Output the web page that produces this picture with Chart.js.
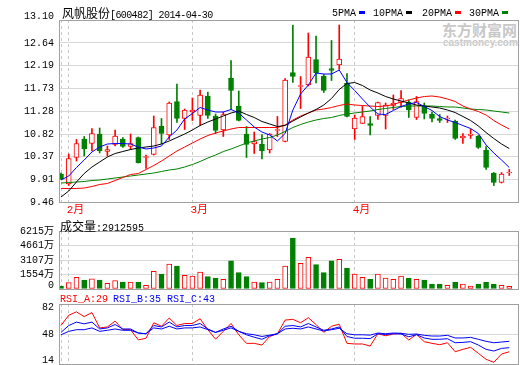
<!DOCTYPE html>
<html>
<head>
<meta charset="utf-8">
<title>风帆股份 600482</title>
<script src="https://cdn.jsdelivr.net/npm/chart.js@4"></script>
<style>
body { margin: 0; background: #fff; }
#box { position: relative; width: 520px; height: 365px; overflow: hidden; }
canvas { position: absolute; left: 0; z-index: 1; }
.t { position: absolute; z-index: 2; white-space: nowrap; font-family: "Liberation Mono", monospace; font-size: 10px; line-height: 14px; color: #000; }
.c { font-family: "Noto Sans CJK SC"; font-size: 12px; }
.sw { display: inline-block; width: 6px; height: 3px; margin-left: 3px; vertical-align: 2px; }
.wm { position: absolute; z-index: 0; white-space: nowrap; color: #c8c8c8; font-weight: bold; }
</style>
</head>
<body>
<div id="box">
  <div class="wm" style="left:442px;top:21px;font-size:15px;line-height:18px;font-family:'Noto Sans CJK SC'">东方财富网</div>
  <div class="wm" style="left:443px;top:37px;font-size:10px;line-height:12px;font-family:'Liberation Sans'">eastmoney.com</div>

  <canvas id="price" width="520" height="215" style="top:0"></canvas>
  <canvas id="vol" width="520" height="75" style="top:220px"></canvas>
  <canvas id="rsi" width="520" height="70" style="top:295px"></canvas>

  <div class="t" style="left:62px;top:6px"><span class="c">风帆股份</span><span style="letter-spacing:-0.6px">[600482] 2014-04-30</span></div>
  <div class="t" style="left:332px;top:7px">5PMA<span class="sw" style="background:#0000ff"></span></div>
  <div class="t" style="left:373px;top:7px">10PMA<span class="sw" style="background:#000000"></span></div>
  <div class="t" style="left:422px;top:7px">20PMA<span class="sw" style="background:#ff0000"></span></div>
  <div class="t" style="left:469px;top:7px">30PMA<span class="sw" style="background:#008000"></span></div>

  <div class="t" style="left:60px;top:219px"><span class="c">成交量</span>:2912595</div>

  <div class="t" style="left:60px;top:293px;color:#ff0000">RSI_A:29</div>
  <div class="t" style="left:113px;top:293px;color:#0000ff">RSI_B:35</div>
  <div class="t" style="left:167px;top:293px;color:#0000ff">RSI_C:43</div>
</div>

<script>
// trading days on the chart (2014, MM-DD)
var dates = [
  '01-30',
  '02-07', '02-10', '02-11', '02-12', '02-13', '02-14', '02-17', '02-18', '02-19', '02-20',
  '02-21', '02-24', '02-25', '02-26', '02-27', '02-28',
  '03-03', '03-04', '03-05', '03-06', '03-07', '03-10', '03-11', '03-12', '03-13', '03-14',
  '03-17', '03-18', '03-19', '03-20', '03-21', '03-24', '03-25', '03-26', '03-27', '03-28', '03-31',
  '04-01', '04-02', '04-03', '04-04', '04-08', '04-09', '04-10', '04-11', '04-14', '04-15',
  '04-16', '04-17', '04-18', '04-21', '04-22', '04-23', '04-24', '04-25', '04-28', '04-29', '04-30'
];

// daily prices
var open = [10.02, 9.82, 10.35, 10.72, 10.63, 10.82, 10.47, 10.61, 10.72, 10.57,
  10.75, 10.35, 10.41, 10.98, 10.80, 11.47, 11.13, 11.26, 11.19, 11.58,
  11.18, 10.90, 11.94, 11.38, 10.82, 10.62, 10.62, 10.50, 10.89, 10.67,
  12.05, 11.77, 11.80, 12.31, 11.98, 12.13, 12.20, 11.84, 10.92, 11.03,
  11.03, 11.19, 11.19, 11.39, 11.45, 11.46, 11.15, 11.38, 11.22, 11.13,
  11.12, 11.08, 10.74, 10.79, 10.78, 10.50, 10.04, 9.85, 10.04];
var high = [10.04, 10.42, 10.71, 10.77, 10.93, 10.94, 10.58, 10.90, 10.75, 10.82,
  10.76, 10.40, 11.18, 11.13, 11.46, 11.82, 11.32, 11.54, 11.70, 11.66,
  11.22, 11.26, 12.29, 11.68, 10.97, 10.86, 10.81, 10.83, 11.17, 11.93,
  13.00, 11.97, 12.84, 12.78, 12.01, 12.69, 13.00, 12.03, 11.20, 11.38,
  11.17, 11.46, 11.44, 11.60, 11.69, 11.50, 11.57, 11.44, 11.26, 11.21,
  11.18, 11.10, 10.83, 10.92, 10.79, 10.57, 10.05, 10.05, 10.11];
var low = [9.91, 9.79, 10.28, 10.38, 10.48, 10.44, 10.38, 10.58, 10.55, 10.51,
  10.24, 10.13, 10.40, 10.62, 10.71, 11.05, 10.91, 11.09, 10.99, 11.13,
  10.83, 10.77, 11.31, 11.08, 10.35, 10.43, 10.32, 10.44, 10.77, 10.66,
  11.85, 11.33, 11.78, 11.84, 11.65, 11.89, 12.11, 11.16, 10.71, 11.03,
  10.80, 11.11, 10.92, 11.31, 11.35, 11.15, 11.11, 11.12, 11.06, 11.05,
  11.05, 10.71, 10.63, 10.73, 10.53, 10.11, 9.79, 9.84, 9.99];
var close = [9.92, 10.33, 10.63, 10.52, 10.83, 10.48, 10.51, 10.78, 10.57, 10.63,
  10.24, 10.37, 10.95, 10.83, 11.44, 11.13, 11.30, 11.30, 11.60, 11.19,
  10.89, 11.21, 11.69, 11.09, 10.61, 10.67, 10.48, 10.82, 10.90, 11.90,
  11.97, 11.79, 12.36, 12.04, 11.69, 12.09, 12.32, 11.17, 11.14, 11.17,
  10.99, 11.45, 11.40, 11.44, 11.53, 11.30, 11.47, 11.23, 11.13, 11.09,
  11.14, 10.73, 10.78, 10.82, 10.55, 10.15, 9.85, 10.02, 10.05];

// moving averages as drawn
var ma5 = [9.90, 9.98, 10.15, 10.30, 10.46, 10.56, 10.62, 10.63, 10.63, 10.62,
  10.56, 10.52, 10.54, 10.58, 10.76, 10.90, 11.12, 11.23, 11.35, 11.30,
  11.26, 11.26, 11.31, 11.24, 11.10, 10.96, 10.86, 10.80, 10.68, 10.83,
  11.30, 11.62, 11.80, 12.04, 12.02, 12.02, 12.10, 11.85, 11.69, 11.52,
  11.36, 11.22, 11.21, 11.29, 11.37, 11.42, 11.45, 11.37, 11.29, 11.17,
  11.10, 11.05, 10.99, 10.93, 10.83, 10.60, 10.44, 10.30, 10.15];
var ma10 = [9.56, 9.68, 9.86, 10.03, 10.16, 10.26, 10.36, 10.43, 10.47, 10.51,
  10.54, 10.56, 10.58, 10.62, 10.68, 10.75, 10.82, 10.90, 10.99, 11.06,
  11.12, 11.18, 11.24, 11.28, 11.21, 11.15, 11.07, 11.02, 10.97, 10.99,
  11.08, 11.16, 11.24, 11.31, 11.40, 11.53, 11.71, 11.83, 11.85, 11.79,
  11.70, 11.64, 11.57, 11.52, 11.48, 11.44, 11.40, 11.38, 11.36, 11.34,
  11.30, 11.25, 11.17, 11.09, 10.98, 10.85, 10.73, 10.62, 10.53];
var ma20 = [9.73, 9.73, 9.73, 9.74, 9.77, 9.81, 9.83, 9.89, 9.95, 10.01,
  10.03, 10.11, 10.19, 10.28, 10.38, 10.48, 10.56, 10.64, 10.72, 10.79,
  10.84, 10.88, 10.92, 10.95, 10.95, 10.95, 10.95, 10.95, 10.95, 11.00,
  11.10, 11.18, 11.24, 11.30, 11.32, 11.35, 11.39, 11.42, 11.40, 11.39,
  11.38, 11.37, 11.38, 11.41, 11.46, 11.50, 11.54, 11.57, 11.58, 11.56,
  11.52, 11.47, 11.38, 11.32, 11.27, 11.20, 11.09, 11.00, 10.92];
var ma30 = [9.84, 9.85, 9.86, 9.87, 9.89, 9.90, 9.92, 9.94, 9.96, 9.98,
  10.00, 10.02, 10.04, 10.07, 10.10, 10.12, 10.16, 10.21, 10.27, 10.34,
  10.40, 10.47, 10.52, 10.58, 10.64, 10.68, 10.72, 10.75, 10.80, 10.87,
  10.95, 11.01, 11.06, 11.10, 11.13, 11.15, 11.19, 11.22, 11.24, 11.26,
  11.28, 11.31, 11.33, 11.35, 11.37, 11.38, 11.38, 11.38, 11.38, 11.37,
  11.36, 11.36, 11.34, 11.32, 11.31, 11.30, 11.28, 11.26, 11.24];

// volume, in 万 shares
var volume = [320, 680, 1250, 960, 1100, 960, 610, 890, 750, 750,
  750, 390, 1890, 1610, 2680, 2460, 1470, 1390, 1820, 1320,
  1180, 1040, 3030, 1750, 1320, 750, 680, 750, 1040, 2460,
  5460, 2750, 3400, 2610, 1750, 3030, 3180, 2250, 1610, 1250,
  1040, 1610, 1180, 1040, 1390, 1180, 1040, 960, 540, 540,
  390, 750, 540, 320, 540, 750, 540, 390, 290];

// RSI lines
var rsiA = [57.6, 69.2, 73.1, 67.7, 72.3, 54.9, 56.0, 62.6, 52.9, 52.9,
  41.3, 43.2, 60.7, 56.8, 66.1, 57.6, 59.9, 59.9, 65.3, 52.9,
  42.1, 51.0, 59.9, 47.1, 37.4, 37.4, 35.5, 45.2, 48.3, 63.8,
  64.6, 60.7, 66.5, 58.7, 49.8, 56.8, 59.1, 37.4, 36.7, 36.7,
  34.3, 48.3, 46.0, 48.0, 48.8, 41.2, 47.6, 39.3, 37.4, 35.9,
  38.1, 27.9, 30.6, 32.9, 26.1, 19.3, 15.9, 25.3, 27.9];
var rsiB = [49.8, 57.6, 61.5, 59.5, 61.5, 53.7, 54.9, 58.7, 53.7, 53.7,
  49.1, 48.3, 57.6, 56.0, 61.5, 56.0, 57.6, 57.6, 59.9, 53.7,
  49.8, 53.7, 56.8, 51.0, 47.1, 44.4, 42.0, 46.0, 48.3, 56.8,
  57.6, 56.0, 59.9, 56.0, 52.2, 53.7, 56.0, 45.2, 43.2, 43.2,
  42.8, 48.3, 47.5, 48.3, 48.0, 44.9, 47.2, 43.5, 42.0, 42.0,
  42.7, 38.1, 38.5, 39.3, 35.5, 30.6, 28.7, 31.7, 32.5];
var rsiC = [47.1, 51.0, 52.9, 52.9, 54.9, 51.0, 52.2, 53.7, 52.2, 52.2,
  49.1, 48.3, 54.9, 53.7, 56.8, 53.7, 54.9, 54.9, 56.0, 52.9,
  49.8, 52.2, 54.9, 51.0, 48.3, 47.1, 45.2, 46.7, 48.3, 53.7,
  54.5, 53.7, 56.0, 53.7, 51.4, 52.9, 54.5, 48.3, 47.1, 47.1,
  46.7, 49.1, 48.3, 49.1, 48.8, 47.6, 48.0, 46.5, 45.7, 45.7,
  46.5, 43.5, 43.5, 44.2, 42.0, 39.7, 38.1, 38.9, 39.7];

// axis tick labels
var priceTicks = [13.10, 12.64, 12.19, 11.73, 11.28, 10.82, 10.37, 9.91, 9.46];
var volTicks = [0, 1554, 3107, 4661, 6215];
var rsiTicks = [14, 48, 82];

var RED = '#ff0000', GREEN = '#008000';
var FONT = '"Liberation Mono", "Noto Sans CJK SC", monospace';

// a dashed line at the first trading day of each month
var monthStarts = [];
dates.forEach(function (d, i) {
  if (i === 0 || d.slice(0, 2) !== dates[i - 1].slice(0, 2)) monthStarts.push(i);
});

var isUp = close.map(function (c, i) { return c >= open[i]; });

function points(arr) {
  return arr.map(function (v, i) { return { x: i, y: v }; });
}

function line(arr, color) {
  return { type: 'line', data: points(arr), borderColor: color, borderWidth: 1, pointRadius: 0, fill: false, order: 0 };
}

// grey box round each plot area
var framePlugin = {
  id: 'frame',
  afterDraw: function (chart) {
    var a = chart.chartArea, ctx = chart.ctx;
    ctx.save();
    ctx.strokeStyle = '#a0a0a0';
    ctx.lineWidth = 1;
    ctx.strokeRect(Math.round(a.left) + 0.5, Math.round(a.top) + 0.5,
      Math.round(a.right - a.left), Math.round(a.bottom - a.top));
    ctx.restore();
  }
};

function xAxis(showLabels, h) {
  return {
    type: 'linear',
    min: -0.26,
    max: dates.length + 0.13,
    offset: false,
    afterBuildTicks: function (s) {
      s.ticks = monthStarts.map(function (v) { return { value: v }; });
    },
    afterFit: function (s) { s.height = h; s.paddingLeft = 0; s.paddingRight = 0; },
    grid: { color: '#c8c8c8', drawTicks: false, offset: false },
    border: { display: false, dash: [3, 3] },
    ticks: {
      display: showLabels, autoSkip: false, maxRotation: 0, align: 'start', padding: 1, labelOffset: -2,
      color: RED, font: { family: FONT, size: 11 },
      callback: function (v) {
        return v === 0 ? '' : parseInt(dates[v].slice(0, 2), 10) + '月';
      }
    }
  };
}

function yAxis(values, label) {
  return {
    min: Math.min.apply(null, values),
    max: Math.max.apply(null, values),
    beginAtZero: false,
    afterBuildTicks: function (s) {
      s.ticks = values.map(function (v) { return { value: v }; });
    },
    afterFit: function (s) { s.width = 59; s.paddingTop = 0; s.paddingBottom = 0; },
    grid: { color: '#d8d8d8', drawTicks: false },
    border: { display: false },
    ticks: {
      autoSkip: false, padding: 5, color: '#000',
      font: { family: FONT, size: 10, lineHeight: '7px' },
      callback: label
    }
  };
}

function options(pad, x, y) {
  return {
    responsive: false,
    animation: false,
    devicePixelRatio: 1,
    events: [],
    layout: { padding: pad, autoPadding: false },
    plugins: { legend: { display: false }, tooltip: { enabled: false } },
    scales: { x: x, y: y }
  };
}

// candlesticks + moving averages
new Chart(document.getElementById('price'), {
  type: 'bar',
  data: {
    datasets: [
      line(ma5, '#0000ff'),
      line(ma10, '#000000'),
      line(ma20, RED),
      line(ma30, GREEN),
      {
        type: 'bar',
        data: dates.map(function (d, i) { return { x: i, y: [open[i], close[i]] }; }),
        backgroundColor: isUp.map(function (u) { return u ? '#ffffff' : GREEN; }),
        borderColor: isUp.map(function (u) { return u ? RED : GREEN; }),
        borderWidth: 1, borderSkipped: false, grouped: false,
        barThickness: 5, maxBarThickness: 5, minBarLength: 1, order: 1
      },
      {
        type: 'bar',
        data: dates.map(function (d, i) { return { x: i, y: [low[i], high[i]] }; }),
        backgroundColor: isUp.map(function (u) { return u ? RED : GREEN; }),
        borderWidth: 0, grouped: false,
        barThickness: 1, maxBarThickness: 1, order: 2
      }
    ]
  },
  options: options({ top: 20, right: 2, bottom: 0, left: 0 }, xAxis(true, 13),
    yAxis(priceTicks, function (v) {
      var s = v.toFixed(2);
      return v === priceTicks[0] ? [s, ''] : s;
    })),
  plugins: [framePlugin]
});

// volume
new Chart(document.getElementById('vol'), {
  type: 'bar',
  data: {
    datasets: [{
      data: points(volume),
      backgroundColor: isUp.map(function (u) { return u ? '#ffffff' : GREEN; }),
      borderColor: isUp.map(function (u) { return u ? RED : GREEN; }),
      borderWidth: 1, borderSkipped: false, grouped: false,
      barThickness: 5, maxBarThickness: 5
    }]
  },
  options: options({ top: 11, right: 2, bottom: 6, left: 0 }, xAxis(false, 0),
    yAxis(volTicks, function (v) { return v === 0 ? ['0', ''] : v + '万'; })),
  plugins: [framePlugin]
});

// RSI
new Chart(document.getElementById('rsi'), {
  type: 'line',
  data: {
    datasets: [line(rsiC, '#0000ff'), line(rsiB, '#0000ff'), line(rsiA, RED)]
  },
  options: options({ top: 9, right: 2, bottom: 1, left: 0 }, xAxis(false, 0),
    yAxis(rsiTicks, function (v) {
      if (v === rsiTicks[2]) return ['', String(v)];
      if (v === rsiTicks[0]) return [String(v), ''];
      return String(v);
    })),
  plugins: [framePlugin]
});
</script>
</body>
</html>
